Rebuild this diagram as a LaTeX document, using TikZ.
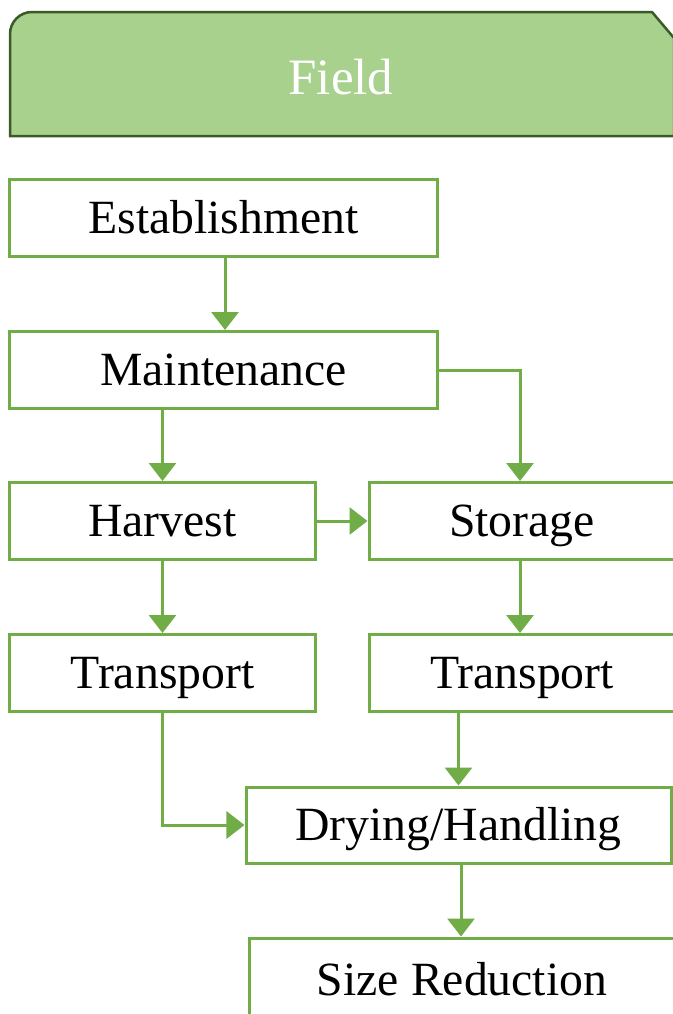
\documentclass[tikz,border=0pt]{standalone}
\usepackage{fontspec}
\setmainfont{Liberation Serif}
\usetikzlibrary{arrows.meta}
\definecolor{boxgreen}{HTML}{70AD47}
\definecolor{bannerfill}{HTML}{A9D18E}
\definecolor{bannerline}{HTML}{3B5A27}
\tikzset{
  stepbox/.style={draw=boxgreen, line width=3bp, fill=white, inner sep=0pt,
    minimum height=77bp, font=\fontsize{47.7bp}{57bp}\selectfont, text=black,
    text height=31bp, text depth=0pt},
  link/.style={draw=boxgreen, line width=3bp, -{Triangle[length=18bp,width=27bp]}},
}
\begin{document}
\begin{tikzpicture}[x=1bp, y=-1bp]
\clip (0,0) rectangle (673,1014);
\fill[white] (0,0) rectangle (673,1014);
% banner
\draw[fill=bannerfill, draw=bannerline, line width=2.5bp]
  (10,136) -- (10,34) arc[start angle=180, end angle=270, radius=22] -- (652,12) -- (674,38) -- (674,136) -- cycle;
\node[text=white, font=\fontsize{51bp}{60bp}\selectfont, inner sep=0pt,
  text height=33bp, text depth=0pt] (field) at (341,78) {Field};
% boxes
\node[stepbox, minimum width=427bp] (est) at (223.5,218) {Establishment};
\node[stepbox, minimum width=427bp] (main) at (223.5,370) {Maintenance};
\node[stepbox, minimum width=305bp] (harv) at (162.5,521) {Harvest};
\node[stepbox, minimum width=306bp] (stor) at (522,521) {Storage};
\node[stepbox, minimum width=305bp] (tl) at (162.5,673) {Transport};
\node[stepbox, minimum width=306bp] (tr) at (522,673) {Transport};
\node[stepbox, minimum width=425bp, minimum height=76bp] (dry) at (458.5,825) {Drying/Handling};
\node[stepbox, minimum width=426bp, minimum height=84bp] (size) at (462,980) {Size Reduction};
% connectors
\draw[link] (est.south -| 225,0) -- (main.north -| 225,0);
\draw[link] (main.south -| harv.north) -- (harv.north);
\draw[link] (main.east) -| (520,0 |- stor.north);
\draw[link] (harv.east) -- (stor.west);
\draw[link] (harv.south) -- (tl.north);
\draw[link] (stor.south -| 520,0) -- (tr.north -| 520,0);
\draw[link] (tl.south) |- (dry.west);
\draw[link] (tr.south -| dry.north) -- (dry.north);
\draw[link] (dry.south -| 461,0) -- (size.north -| 461,0);
\end{tikzpicture}
\end{document}
